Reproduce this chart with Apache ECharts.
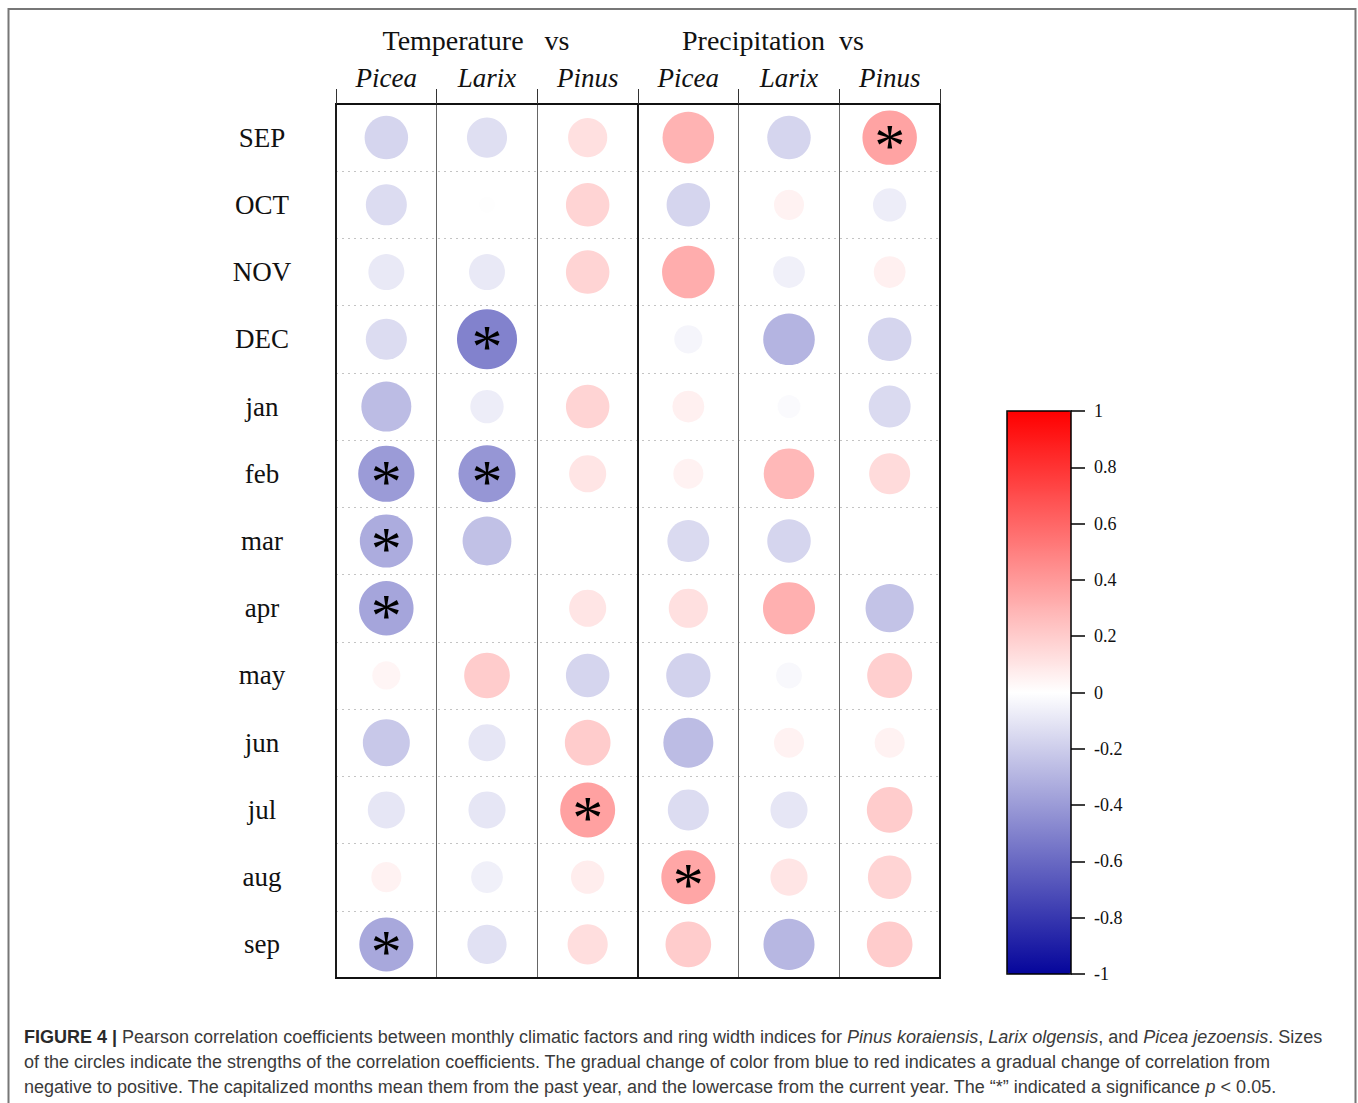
<!DOCTYPE html>
<html><head><meta charset="utf-8">
<script src="https://cdn.jsdelivr.net/npm/echarts@6/dist/echarts.min.js"></script>
<style>html,body{margin:0;padding:0;background:#fff}#c{width:1358px;height:1103px}</style>
</head><body><div id="c"></div>
<script>
// ---- data ----
const months = ['SEP','OCT','NOV','DEC','jan','feb','mar','apr','may','jun','jul','aug','sep'];
const genera = ['Picea','Larix','Pinus','Picea','Larix','Pinus'];
const groupTitles = ['Temperature   vs', 'Precipitation  vs'];

const tempPicea = [-0.17,-0.14,-0.09,-0.14,-0.27,-0.40,-0.33,-0.36,0.04,-0.22,-0.10,0.05,-0.35];
const tempLarix = [-0.13,-0.006,-0.09,-0.50,-0.07,-0.42,-0.25,null,0.20,-0.10,-0.10,-0.06,-0.12];
const tempPinus = [0.12,0.17,0.17,null,0.17,0.10,null,0.10,-0.17,0.20,0.37,0.07,0.13];
const precPicea = [0.30,-0.17,0.32,-0.04,0.06,0.05,-0.15,0.12,-0.18,-0.27,-0.14,0.35,0.20];
const precLarix = [-0.17,0.05,-0.06,-0.30,-0.02,0.28,-0.17,0.31,-0.03,0.05,-0.10,0.10,-0.29];
const precPinus = [0.36,-0.07,0.06,-0.17,-0.15,0.14,null,-0.24,0.19,0.05,0.20,0.17,0.20];

// rows (month index) with p < 0.05, per column
const sigTempPicea = [5,6,7,12];
const sigTempLarix = [3,5];
const sigTempPinus = [10];
const sigPrecPicea = [11];
const sigPrecLarix = [];
const sigPrecPinus = [0];

const colorStops = ['#05059b', '#ffffff', '#ff0000'];

// ---- build ----
const columns = [tempPicea, tempLarix, tempPinus, precPicea, precLarix, precPinus];
const sigCols = [sigTempPicea, sigTempLarix, sigTempPinus, sigPrecPicea, sigPrecLarix, sigPrecPinus];
const points = [];
columns.forEach((col, ci) => col.forEach((v, ri) => {
  if (v !== null) points.push([ci, ri, v, sigCols[ci].includes(ri) ? 1 : 0]);
}));

const serif = 'Liberation Serif';
const chart = echarts.init(document.getElementById('c'), null, {renderer: 'svg'});
chart.setOption({
  backgroundColor: '#ffffff',
  animation: false,
  grid: [
    {left: 336, top: 104, width: 604, height: 874, show: true, borderColor: '#111', borderWidth: 2, backgroundColor: 'transparent'},
    {left: 1007, top: 411, width: 64, height: 563, show: true, borderColor: '#000', borderWidth: 1.5, backgroundColor: 'transparent', z: 10},
    {left: 1071, top: 411, width: 14, height: 563, show: false}
  ],
  xAxis: [
    {type: 'category', gridIndex: 0, data: genera, position: 'top', boundaryGap: true,
     axisLine: {show: true, lineStyle: {color: '#111', width: 2}},
     axisTick: {show: true, length: 15, inside: false, lineStyle: {color: '#333', width: 1}},
     axisLabel: {margin: 13, fontFamily: serif, fontStyle: 'italic', fontSize: 27, color: '#111'},
     splitLine: {show: true, lineStyle: {color: '#666', width: 1}}},
    {type: 'value', gridIndex: 0, min: 0, max: 6, interval: 3, position: 'bottom',
     axisLine: {show: true, lineStyle: {color: '#111', width: 2}}, axisTick: {show: false}, axisLabel: {show: false},
     splitLine: {show: true, lineStyle: {color: '#1a1a1a', width: 2}}},
    {type: 'value', gridIndex: 1, min: 0, max: 1, show: false},
    {type: 'value', gridIndex: 2, min: 0, max: 1, show: false}
  ],
  yAxis: [
    {type: 'category', gridIndex: 0, data: months, inverse: true, boundaryGap: true,
     axisLine: {show: false}, axisTick: {show: false},
     axisLabel: {margin: 74, align: 'center', fontFamily: serif, fontSize: 27, color: '#111'},
     splitLine: {show: true, lineStyle: {color: '#c4c4c4', width: 1, type: [2, 4]}}},
    {type: 'value', gridIndex: 1, min: -1, max: 1, show: false},
    {type: 'value', gridIndex: 2, position: 'right', min: -1, max: 1, interval: 0.2,
     axisLine: {show: false}, axisTick: {show: false},
     axisLabel: {margin: 9, fontFamily: serif, fontSize: 18, color: '#111'},
     splitLine: {show: true, lineStyle: {color: '#000', width: 1.5, type: 'solid'}}}
  ],
  visualMap: {
    type: 'continuous', min: -1, max: 1, dimension: 2, seriesIndex: 0,
    inRange: {color: colorStops}, calculable: false, orient: 'vertical',
    left: 1007, top: 411, itemWidth: 64, itemHeight: 563, padding: 0
  },
  series: [{
    type: 'scatter', xAxisIndex: 0, yAxisIndex: 0, data: points,
    symbol: 'circle',
    symbolSize: (val) => 74 * Math.pow(Math.abs(val[2]), 0.3),
    itemStyle: {opacity: 1},
    emphasis: {disabled: true},
    label: {show: true, position: 'inside', formatter: (p) => p.data[3] ? '*' : '',
            color: '#000', fontSize: 62, fontFamily: serif, offset: [0, 7]}
  }],
  graphic: [
    {type: 'rect', shape: {x: 8.5, y: 9, width: 1347, height: 1130}, style: {fill: 'none', stroke: '#777', lineWidth: 2}, silent: true},
    {type: 'text', style: {x: 476, y: 40, text: groupTitles[0], font: '28px "Liberation Serif"', fill: '#111', textAlign: 'center', textVerticalAlign: 'middle'}},
    {type: 'text', style: {x: 773, y: 40, text: groupTitles[1], font: '28px "Liberation Serif"', fill: '#111', textAlign: 'center', textVerticalAlign: 'middle'}},
    {type: 'text', style: {x: 24, y: 1024, fill: '#3a3a3a', font: '18px "Liberation Sans"', lineHeight: 25,
      text: '{b|FIGURE 4 |} Pearson correlation coefficients between monthly climatic factors and ring width indices for {i|Pinus koraiensis}, {i|Larix olgensis}, and {i|Picea jezoensis}. Sizes\n' +
            'of the circles indicate the strengths of the correlation coefficients. The gradual change of color from blue to red indicates a gradual change of correlation from\n' +
            'negative to positive. The capitalized months mean them from the past year, and the lowercase from the current year. The \u201c*\u201d indicated a significance {i|p} < 0.05.',
      rich: {
        b: {fontWeight: 'bold', fontSize: 18, fontFamily: 'Liberation Sans', fill: '#2a2a2a', lineHeight: 25},
        i: {fontStyle: 'italic', fontSize: 18, fontFamily: 'Liberation Sans', fill: '#3a3a3a', lineHeight: 25}
      }}}
  ]
});
</script></body></html>
